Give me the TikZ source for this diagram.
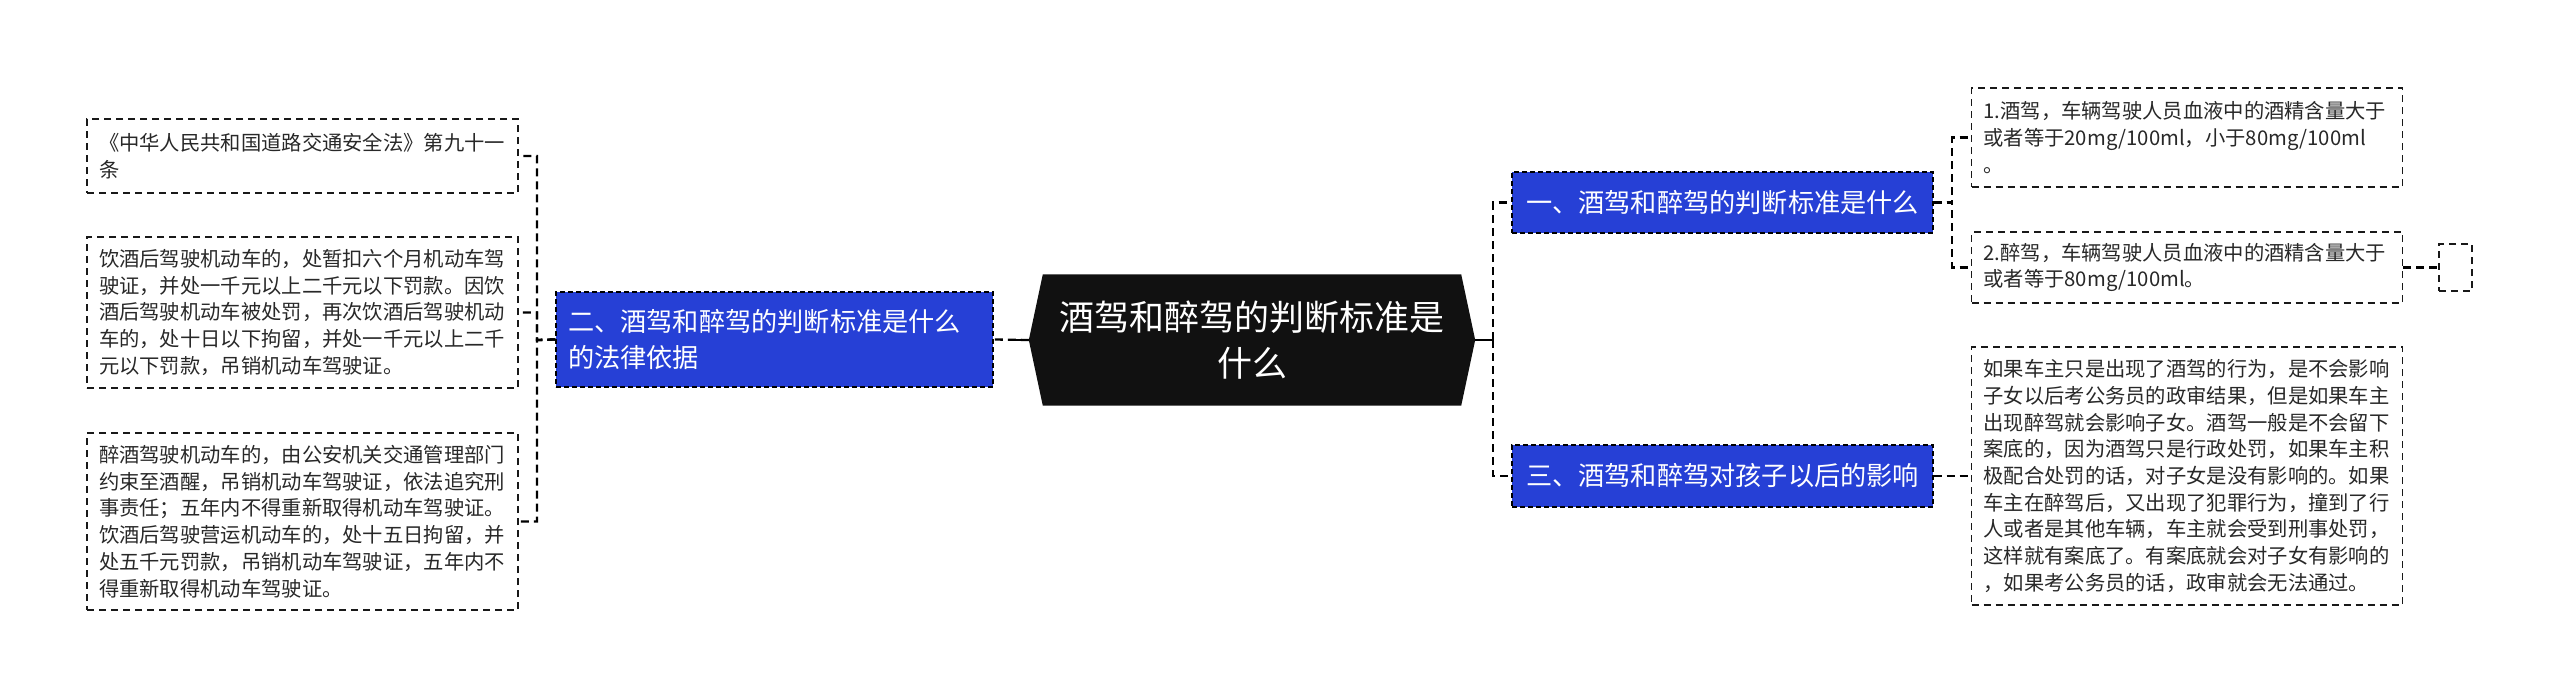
\documentclass[tikz,border=0pt]{standalone}
\usepackage{fontspec}
\setmainfont{Noto Sans CJK SC}
\usetikzlibrary{backgrounds}
\definecolor{nodeblue}{RGB}{38,64,214}
\definecolor{leaftext}{RGB}{40,40,40}
\definecolor{centerfill}{RGB}{17,17,17}
\begin{document}
\begin{tikzpicture}[x=1pt,y=-1pt,
  leaf/.style={draw=black!90, line width=1.8pt, dash pattern=on 7pt off 5pt, text=leaftext, font=\fontsize{20.3pt}{26.7pt}\selectfont, align=left, text width=407pt, inner xsep=12pt, inner ysep=0pt},
  bluebox/.style={fill=nodeblue, draw=black, line width=1.4pt, dash pattern=on 5pt off 3pt, text=white, font=\fontsize{26.2pt}{36pt}\selectfont, inner sep=0pt},
  hub/.style={text=white, font=\fontsize{35pt}{45.6pt}\selectfont, align=center, minimum width=446pt, minimum height=131pt, inner sep=0pt},
  conn/.style={draw=black, line width=2.3pt, dash pattern=on 8pt off 5pt},
  stub/.style={draw=black, line width=2.4pt},
]
\begin{scope}[on background layer]
\fill[white] (0,0) rectangle (2560,699);
\end{scope}
\useasboundingbox (0,0) rectangle (2560,699);

% central node
\node[hub] (c) at (1252,340) {酒驾和醉驾的判断标准是\\什么};
\begin{scope}[on background layer]
\fill[centerfill] ([xshift=14pt]c.north west) -- ([xshift=-14pt]c.north east) -- (c.east) -- ([xshift=-14pt]c.south east) -- ([xshift=14pt]c.south west) -- (c.west) -- cycle;
\end{scope}

% blue branch nodes
\node[bluebox, text width=413pt, align=left, minimum height=95pt, inner xsep=12pt] (b2) at (774.5,339.5) {二、酒驾和醉驾的判断标准是什么\\的法律依据};
\node[bluebox, minimum width=421pt, minimum height=61pt] (b1) at (1722.5,202.5) {一、酒驾和醉驾的判断标准是什么};
\node[bluebox, minimum width=421pt, minimum height=62pt] (b3) at (1722.5,476) {三、酒驾和醉驾对孩子以后的影响};

% left leaves
\node[leaf, minimum height=74pt] (l1) at (302.5,156) {《中华人民共和国道路交通安全法》第九十一\\条};
\node[leaf, minimum height=151pt] (l2) at (302.5,312.5) {饮酒后驾驶机动车的，处暂扣六个月机动车驾\\驶证，并处一千元以上二千元以下罚款。因饮\\酒后驾驶机动车被处罚，再次饮酒后驾驶机动\\车的，处十日以下拘留，并处一千元以上二千\\元以下罚款，吊销机动车驾驶证。};
\node[leaf, minimum height=177pt] (l3) at (302.5,521.5) {醉酒驾驶机动车的，由公安机关交通管理部门\\约束至酒醒，吊销机动车驾驶证，依法追究刑\\事责任；五年内不得重新取得机动车驾驶证。\\饮酒后驾驶营运机动车的，处十五日拘留，并\\处五千元罚款，吊销机动车驾驶证，五年内不\\得重新取得机动车驾驶证。};

% right leaves
\node[leaf, minimum height=99pt] (r1) at (2187,137.5) {1.酒驾，车辆驾驶人员血液中的酒精含量大于\\或者等于20mg/100ml，小于80mg/100ml\\。};
\node[leaf, minimum height=71pt] (r2) at (2187,267.5) {2.醉驾，车辆驾驶人员血液中的酒精含量大于\\或者等于80mg/100ml。};
\node[leaf, minimum height=258pt] (r3) at (2187,476) {如果车主只是出现了酒驾的行为，是不会影响\\子女以后考公务员的政审结果，但是如果车主\\出现醉驾就会影响子女。酒驾一般是不会留下\\案底的，因为酒驾只是行政处罚，如果车主积\\极配合处罚的话，对子女是没有影响的。如果\\车主在醉驾后，又出现了犯罪行为，撞到了行\\人或者是其他车辆，车主就会受到刑事处罚，\\这样就有案底了。有案底就会对子女有影响的\\，如果考公务员的话，政审就会无法通过。};
\node[draw=black!90, line width=1.8pt, dash pattern=on 7pt off 5pt, minimum width=33pt, minimum height=47pt, inner sep=0pt] (e) at (2455.5,267.5) {};

% connectors
\coordinate (lj) at (537,340);
\coordinate (rj) at (1493,340);
\coordinate (r1j) at (1952,202.5);
\draw[conn] (c.west) -- (b2.east);
\draw[stub] (c.west) -- ++(-18,0);
\draw[conn] (b2.west) -- (lj) |- (l1.east);
\draw[conn] (b2.west) -- (lj) |- (l2.east);
\draw[conn] (b2.west) -- (lj) |- (l3.east);
\draw[stub] (c.east) -- (rj);
\draw[conn] (rj) |- (b1.west);
\draw[conn] (rj) |- (b3.west);
\draw[conn] (b1.east) -- (r1j) |- (r1.west);
\draw[conn] (b1.east) -- (r1j) |- (r2.west);
\draw[conn] (r2.east) -- (e.west);
\draw[conn] (b3.east) -- (r3.west);
\end{tikzpicture}
\end{document}
